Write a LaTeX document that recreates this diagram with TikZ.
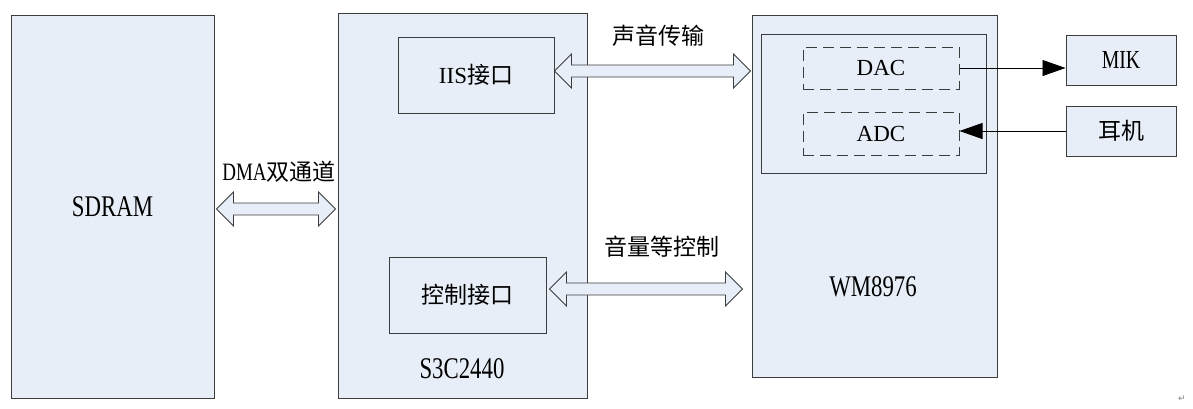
\documentclass[tikz,border=0pt]{standalone}
\usepackage{xcolor}
\usepackage{fontspec}
\setmainfont{Liberation Serif}
\newfontfamily\cjk{Noto Sans CJK SC}
\newfontfamily\narrowrm[FakeStretch=0.76]{Liberation Serif}
\newfontfamily\markfont{DejaVu Sans}
\usepackage{tikz}
\usetikzlibrary{arrows.meta,calc}

\definecolor{boxfill}{RGB}{232,238,247}
\definecolor{edge}{RGB}{60,60,60}
\newcommand{\bigsz}{\fontsize{30}{34}\selectfont}
\newcommand{\midsz}{\fontsize{23}{27}\selectfont}
\newcommand{\blockarrow}[2]{%
  \draw[blockarr] let \p1=(#1), \p2=(#2) in
    (\x1,\y1) -- (\x1+17pt,\y1+17pt) -- (\x1+17pt,\y1+6pt) -- (\x2-17pt,\y1+6pt)
    -- (\x2-17pt,\y1+17pt) -- (\x2,\y1) -- (\x2-17pt,\y1-17pt) -- (\x2-17pt,\y1-6pt)
    -- (\x1+17pt,\y1-6pt) -- (\x1+17pt,\y1-17pt) -- cycle;}

\begin{document}
\begin{tikzpicture}[x=1pt,y=-1pt,
  box/.style={draw=edge, fill=boxfill, line width=1pt, inner sep=0pt},
  dashbox/.style={draw=edge, line width=1pt, dash pattern=on 11pt off 6pt, inner sep=0pt},
  blockarr/.style={draw=edge, fill=boxfill, line width=0.8pt, line join=miter},
  sigarr/.style={draw=black, line width=0.8pt, -{Triangle[length=23pt,width=16pt]}},
  lbl/.style={inner sep=0pt}]
\useasboundingbox (0,0) rectangle (1193,408);

\node[box, minimum width=203pt, minimum height=383pt] (sdram) at (112.5,206.5) {\narrowrm\bigsz SDRAM};
\node[box, minimum width=249pt, minimum height=385pt] (soc) at (462.5,205.5) {};
\node[box, minimum width=156pt, minimum height=76pt] (iis) at (476,75) {\midsz IIS{\cjk 接口}};
\node[box, minimum width=157pt, minimum height=76pt] (ctrl) at (467.5,295) {\midsz\cjk 控制接口};
\node[lbl] (soclbl) at (462,369) {\narrowrm\bigsz S3C2440};

\node[box, minimum width=245pt, minimum height=362pt] (wm) at (874.5,196) {};
\node[box, minimum width=225pt, minimum height=139pt] (codec) at (873.5,103.5) {};
\node[dashbox, minimum width=156pt, minimum height=42pt] (dac) at (881,68) {\midsz DAC};
\node[dashbox, minimum width=156pt, minimum height=43pt] (adc) at (881,133.5) {\midsz ADC};
\node[lbl] (wmlbl) at (873,287) {\narrowrm\bigsz WM8976};

\node[box, minimum width=110pt, minimum height=50pt] (mik) at (1121,60) {\narrowrm\fontsize{26}{30}\selectfont MIK};
\node[box, minimum width=110pt, minimum height=50pt] (ear) at (1121,131) {\midsz\cjk 耳机};

\blockarrow{[xshift=2pt,yshift=-2.5pt]sdram.east}{[xshift=-2pt]soc.west}
\blockarrow{[yshift=4pt]iis.east}{[xshift=-1pt]wm.west}
\blockarrow{[xshift=3pt,yshift=6pt]ctrl.east}{[xshift=-9pt]wm.west}

\node[lbl] (dmalbl) at (279,172) {\midsz{\narrowrm\fontsize{25}{29}\selectfont DMA}{\cjk 双通道}};
\node[lbl] (iislbl) at (658,36) {\midsz\cjk 声音传输};
\node[lbl] (ctrllbl) at (662,247) {\midsz\cjk 音量等控制};

\draw[sigarr] (dac.east) -- (dac.east -| mik.west);
\draw[sigarr] (ear.west) -- (ear.west -| adc.east);

\node[lbl, text=gray] (pmark) at (1182,399) {\markfont\fontsize{9}{10}\selectfont ↵};
\end{tikzpicture}
\end{document}
